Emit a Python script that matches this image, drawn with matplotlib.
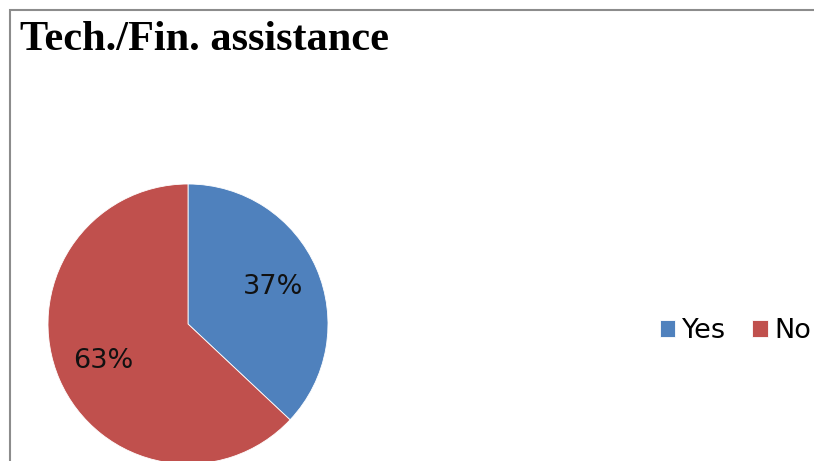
import matplotlib.pyplot as plt
from matplotlib.patches import Rectangle

labels = ["Yes", "No"]
shares = [37, 63]
colors = ["#4F81BD", "#C0504D"]

W, H = 814, 461
fig = plt.figure(figsize=(W / 100, H / 100), dpi=100)

# chart frame, open on the right and bottom
fig.patches.append(Rectangle((9.5 / W, -0.1), 1.2, 1.1 - 10.5 / H,
                             transform=fig.transFigure, fill=False,
                             edgecolor="#8c8c8c", linewidth=1.5))

fig.text(20 / W, 1 - 40 / H, "Tech./Fin. assistance", family="Liberation Serif",
         fontweight="bold", fontsize=30.5, va="center", ha="left")

# pie: centre (188, 324) px, radius 140 px
cx, cy, r = 188, 324, 140
ax = fig.add_axes([(cx - r) / W, (H - cy - r) / H, 2 * r / W, 2 * r / H])
wedges, texts, autotexts = ax.pie(
    shares, colors=colors, startangle=90, counterclock=False,
    autopct="%d%%", pctdistance=0.66,
    wedgeprops=dict(linewidth=0.6, edgecolor="white"),
    textprops=dict(fontsize=19.5, family="DejaVu Sans", color="#111111"))
ax.set_xlim(-1, 1)
ax.set_ylim(-1, 1)
ax.set_aspect("auto")
ax.axis("off")

fig.legend(wedges, labels, loc="center left", ncol=2,
           bbox_to_anchor=(660 / W, 1 - 331 / H), frameon=False,
           handlelength=0.56, handleheight=0.56,
           handletextpad=0.27, columnspacing=0.95, borderpad=0, borderaxespad=0,
           prop=dict(family="DejaVu Sans", size=19.5))

fig.savefig("out.png", dpi=100)
